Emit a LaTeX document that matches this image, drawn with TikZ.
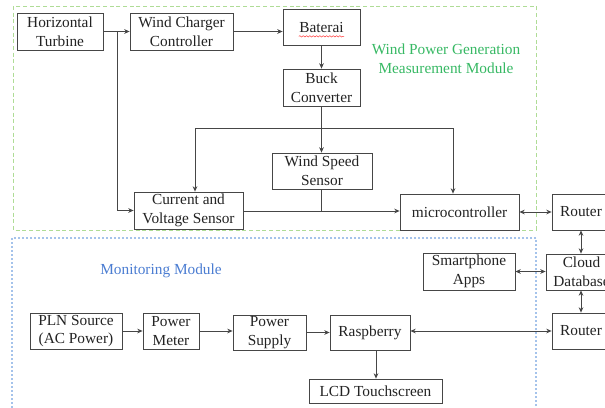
\documentclass[tikz,border=0pt]{standalone}
\usepackage{fontspec}
\setmainfont{Liberation Serif}
\newfontfamily\boxfont{Liberation Serif}
\usetikzlibrary{arrows.meta,decorations.pathmorphing}
\definecolor{linegray}{RGB}{70,70,70}
\definecolor{txtgray}{RGB}{35,35,35}
\definecolor{modgreen}{RGB}{55,185,100}
\definecolor{framegreen}{RGB}{175,220,150}
\definecolor{modblue}{RGB}{75,125,210}
\definecolor{frameblue}{RGB}{165,195,235}
\tikzset{
  blk/.style={draw=linegray, line width=0.6pt, fill=white, inner sep=0pt,
    align=center, text=txtgray, font=\boxfont\fontsize{11.5}{13.9}\selectfont},
  link/.style={draw=linegray, line width=0.6pt},
  arr/.style={link, -{Stealth[length=4pt,width=3.5pt]}},
  darr/.style={link, {Stealth[length=4pt,width=3.5pt]}-{Stealth[length=4pt,width=3.5pt]}},
  modlabel/.style={align=center, font=\boxfont\fontsize{11.5}{13.9}\selectfont},
}
\newcommand\bnode[6]{\node[blk, minimum width=#4*0.75pt, minimum height=#5*0.75pt] (#1) at (#2,#3) {#6};}
\begin{document}
\begin{tikzpicture}[x=0.75pt, y=-0.75pt]
\clip (0,0) rectangle (605,407);
\fill[white] (0,0) rectangle (605,407);

% module frames
\draw[framegreen, line width=0.6pt, dash pattern=on 3pt off 2pt] (13,6) rectangle (536,230);
\draw[frameblue, line width=0.9pt, dash pattern=on 1.5pt off 1.5pt] (12,238) rectangle (536,420);

% module titles
\node[modlabel, text=modgreen] (tgen) at (446,59) {Wind Power Generation\\Measurement Module};
\node[modlabel, text=modblue] (tmon) at (161,271) {Monitoring Module};

% generation blocks
\bnode{ht}{60}{31.5}{86}{37}{Horizontal\\Turbine}
\bnode{wcc}{181.5}{31.5}{103}{37}{Wind Charger\\Controller}
\bnode{bat}{321.5}{27}{77}{36}{Baterai}
\bnode{buck}{321.5}{87.5}{77}{37}{Buck\\Converter}
\bnode{wss}{322}{171}{100}{36}{Wind Speed\\Sensor}
\bnode{cvs}{188.5}{210.5}{109}{37}{Current and\\Voltage Sensor}
\bnode{mcu}{459.5}{212}{119}{36}{microcontroller}
\bnode{rt1}{581}{212}{58}{36}{Router}
\bnode{cloud}{581.5}{272}{71}{36}{Cloud\\Database}
\bnode{phone}{469}{271.5}{92}{37}{Smartphone\\Apps}

% monitoring blocks
\bnode{pln}{76}{331}{92}{36}{PLN Source\\(AC Power)}
\bnode{pm}{171}{331}{56}{36}{Power\\Meter}
\bnode{ps}{269.5}{332.5}{73}{35}{Power\\Supply}
\bnode{rasp}{370}{332.5}{80}{35}{Raspberry}
\bnode{rt2}{581}{331}{58}{36}{Router}
\bnode{lcd}{375.5}{391}{133}{24}{LCD Touchscreen}

% spelling squiggle under Baterai
\draw[red!80, line width=0.35pt, decorate, decoration={snake, amplitude=0.5pt, segment length=2.5pt}]
  ([xshift=-17pt,yshift=-7pt]bat.center) -- ([xshift=17pt,yshift=-7pt]bat.center);

% junction points
\coordinate (jt) at (117,31.5);
\coordinate (jl) at (195,128);
\coordinate (jr) at (453,128);
\coordinate (jw) at (321.5,211);

% power path
\draw[arr] (ht.east) -- (wcc.west);
\draw[arr] (jt) |- (cvs.west);
\draw[arr] (wcc.east) -- (bat.west |- wcc.east);
\draw[arr] (bat.south) -- (buck.north);
\draw[arr] (buck.south) -- (wss.north -| buck.south);
\draw[link] (jl) -- (jr);
\draw[arr] (jl) -- (jl |- cvs.north);
\draw[arr] (jr) -- (jr |- mcu.north);

% sensor outputs
\draw[arr] (cvs.east |- jw) -- (mcu.west |- jw);
\draw[link] (wss.south -| jw) -- (jw);

% network links
\draw[darr] (mcu.east) -- (rt1.west);
\draw[darr] (rt1.south) -- (cloud.north -| rt1.south);
\draw[darr] (phone.east) -- (cloud.west |- phone.east);
\draw[darr] (cloud.south -| rt2.north) -- (rt2.north);
\draw[darr] (rasp.east |- rt2.west) -- (rt2.west);

% monitoring chain
\draw[arr] (pln.east) -- (pm.west);
\draw[arr] (pm.east) -- (ps.west |- pm.east);
\draw[arr] (ps.east) -- (rasp.west);
\draw[arr] (rasp.south -| 376,0) -- (lcd.north -| 376,0);
\end{tikzpicture}
\end{document}
